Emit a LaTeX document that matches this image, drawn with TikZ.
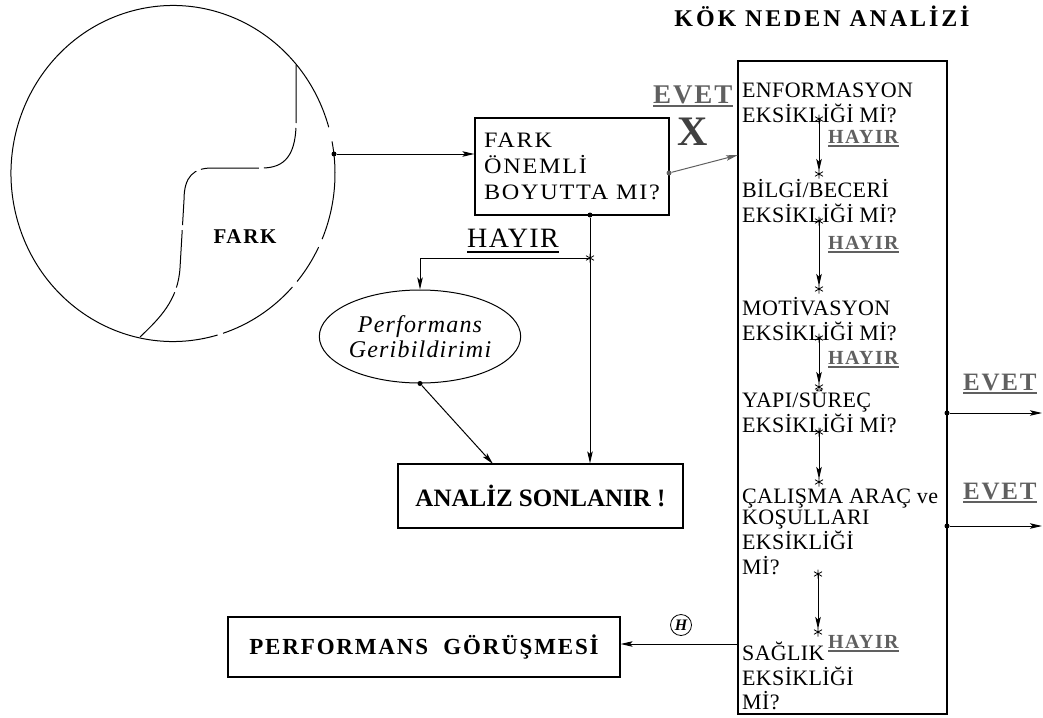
\documentclass[tikz,border=0pt]{standalone}
\usepackage{fontspec}
\setmainfont{Liberation Serif}
\newfontfamily\qfont[LetterSpace=1.5]{Liberation Serif}
\newfontfamily\fboxfont[FakeStretch=1.1,LetterSpace=8]{Liberation Serif}
\newfontfamily\widefont[LetterSpace=5]{Liberation Serif}
\newfontfamily\headfont[LetterSpace=12]{Liberation Serif}
\newfontfamily\strongfont[LetterSpace=8]{Liberation Serif}
\newfontfamily\plainbold{Liberation Serif}
\newfontfamily\labelfont[LetterSpace=7]{Liberation Serif}
\usetikzlibrary{arrows.meta,shapes.geometric}
\definecolor{labelgray}{RGB}{96,96,96}
\newcommand{\stackl}[1]{\begin{tabular}[t]{@{}l@{}}#1\end{tabular}}

\tikzset{
  plain/.style={line width=1pt},
  conn/.style={line width=1pt, -{Stealth[length=12pt,width=5.5pt,inset=2.5pt]}},
  frame/.style={draw, line width=1.2pt, rectangle, inner sep=0pt},
  dot/.style={circle, fill, inner sep=0pt, minimum size=5pt},
  qtext/.style={anchor=base west, inner sep=0pt, font=\qfont\fontsize{22}{21.5}\selectfont},
  nolabel/.style={anchor=base west, inner sep=0pt, text=labelgray,
    font=\labelfont\bfseries\fontsize{20}{20}\selectfont},
  yeslabel/.style={anchor=base west, inner sep=0pt, text=labelgray,
    font=\labelfont\bfseries\fontsize{25}{25}\selectfont},
  ul/.style={line width=1.5pt, labelgray},
  astk/.pic={\draw[line width=0.8pt] (0,-4.5)--(0,4.5) (-4,-2.3)--(4,2.3) (-4,2.3)--(4,-2.3);}
}

\begin{document}
\begin{tikzpicture}[x=1pt,y=-1pt]
\useasboundingbox (0,0) rectangle (1043,717);

% the circle of the gap, drawn as long dashes
\coordinate (cc) at (173,173.5);
\foreach \a/\b in {-11/23,26/40,42.5/72,74/344}
  \draw[plain] (cc) ++(\a:162 and 168) arc[start angle=\a, end angle=\b, x radius=162, y radius=168];
% the dividing line inside it
\draw[plain, dash pattern=on 58pt off 5pt]
  (296,65) -- (296,118) .. controls (297,155) and (285,168) .. (262,168)
  -- (212,168) .. controls (194,168) and (184,176) .. (184,200)
  -- (180,268) .. controls (178,300) and (160,318) .. (140,337);
\node[font=\strongfont\bfseries\fontsize{21}{21}\selectfont] (farklbl) at (245,237) {FARK};
\node[dot] (cdot) at (334,154) {};

% title and the root cause box
\node[anchor=base, inner sep=0pt, font=\headfont\bfseries\fontsize{24}{24}\selectfont] (title) at (822,27) {KÖK NEDEN ANALİZİ};
\node[frame, minimum width=209pt, minimum height=653pt] (rca) at (842.5,387.5) {};

% decision box
\node[frame, minimum width=194pt, minimum height=97pt, align=left,
  font=\fboxfont\fontsize{22}{26}\selectfont] (fark) at (572,166.5) {FARK\\ÖNEMLİ\\BOYUTTA MI?};
\draw[conn] (cdot) -- (fark.west |- cdot);

% yes branch
\node[yeslabel, font=\labelfont\bfseries\fontsize{27}{27}\selectfont] (ev0) at (653,103) {EVET};
\draw[ul] ([yshift=-3pt]ev0.base west) -- ([yshift=-3pt]ev0.base east);
\node[anchor=base, inner sep=0pt, text=black!75, font=\plainbold\bfseries\fontsize{42}{42}\selectfont] (xm) at (693,145) {X};
\node[dot, fill=labelgray] (gdot) at (669,173) {};
\coordinate (gin) at (738,155);
\draw[conn, labelgray] (gdot) -- (gin);

% no branch
\node[dot] (fb) at (590,215) {};
\coordinate (j) at (590,258);
\node[anchor=base west, inner sep=0pt, font=\widefont\fontsize{28}{28}\selectfont] (hy0) at (467,247) {HAYIR};
\draw[line width=1.3pt] ([yshift=-5pt]hy0.base west) -- ([yshift=-5pt]hy0.base east);
\node[draw, ellipse, line width=1pt, minimum width=178pt, minimum height=93pt, inner sep=0pt,
  align=center, font=\widefont\itshape\fontsize{24}{25}\selectfont] (pfb) at (420,336.5) {Performans\\Geribildirimi};
\node[frame, minimum width=285pt, minimum height=64pt,
  font=\plainbold\bfseries\fontsize{25}{25}\selectfont] (analiz) at (540.5,496) {ANALİZ SONLANIR !};
\draw[plain] (fb) -- (j);
\draw[conn] (j) -- (j |- analiz.north);
\draw[conn] (j) -| (pfb.north);
\pic at (j) {astk};
\node[dot] (pdot) at (pfb.south) {};
\coordinate (at1) at (493,464);
\draw[conn] (pdot) -- (at1);

% questions of the root cause analysis
\node[qtext] (q1) at (742,97) {\stackl{ENFORMASYON\\EKSİKLİĞİ Mİ?}};
\node[qtext] (q2) at (742,197) {\stackl{BİLGİ/BECERİ\\EKSİKLİĞİ Mİ?}};
\node[qtext] (q3) at (742,315) {\stackl{MOTİVASYON\\EKSİKLİĞİ Mİ?}};
\node[qtext] (q4) at (742,407) {\stackl{YAPI/SÜREÇ\\EKSİKLİĞİ Mİ?}};
\node[qtext] (q5) at (742,503) {\stackl{ÇALIŞMA ARAÇ ve\\KOŞULLARI\\EKSİKLİĞİ\\Mİ?}};
\node[qtext] (q6) at (742,660) {\stackl{SAĞLIK\\EKSİKLİĞİ\\Mİ?}};

% links between the questions
\coordinate (s1a) at (819,119); \coordinate (s1b) at (819,174);
\coordinate (s2a) at (819,221); \coordinate (s2b) at (819,289);
\coordinate (s3a) at (819,338); \coordinate (s3b) at (819,387);
\coordinate (s4a) at (819,432); \coordinate (s4b) at (819,482);
\coordinate (s5a) at (818,574); \coordinate (s5b) at (818,632);
\foreach \p in {1,...,5} {
  \draw[conn, shorten >=3pt] (s\p a) -- (s\p b);
  \pic at (s\p a) {astk};
  \pic at (s\p b) {astk};
}
\node[nolabel] (h1) at (828,143) {HAYIR};
\node[nolabel] (h2) at (828,249) {HAYIR};
\node[nolabel] (h3) at (828,364) {HAYIR};
\node[nolabel] (h4) at (828,648) {HAYIR};
\foreach \h in {h1,h2,h3,h4}
  \draw[ul] ([yshift=-3pt]\h.base west) -- ([yshift=-3pt]\h.base east);

% yes exits on the right
\node[yeslabel] (ev1) at (963,390) {EVET};
\node[yeslabel] (ev2) at (963,499) {EVET};
\draw[ul] ([yshift=-3pt]ev1.base west) -- ([yshift=-3pt]ev1.base east);
\draw[ul] ([yshift=-3pt]ev2.base west) -- ([yshift=-3pt]ev2.base east);
\node[dot] (e1) at (947,413) {};
\node[dot] (e2) at (947,526) {};
\coordinate (e1o) at (1042,413);
\coordinate (e2o) at (1042,526);
\draw[conn] (e1) -- (e1o);
\draw[conn] (e2) -- (e2o);

% performance interview
\node[frame, minimum width=392pt, minimum height=60pt,
  font=\strongfont\bfseries\fontsize{23}{23}\selectfont] (perfg) at (424,647) {PERFORMANS\ \ GÖRÜŞMESİ};
\coordinate (hs) at (738,644);
\draw[conn] (hs) -- (perfg.east |- hs);
\node[circle, draw, line width=0.8pt, inner sep=0pt, minimum size=21pt,
  font=\plainbold\bfseries\itshape\fontsize{16}{16}\selectfont] (hc) at (681,625) {H};
\end{tikzpicture}
\end{document}
